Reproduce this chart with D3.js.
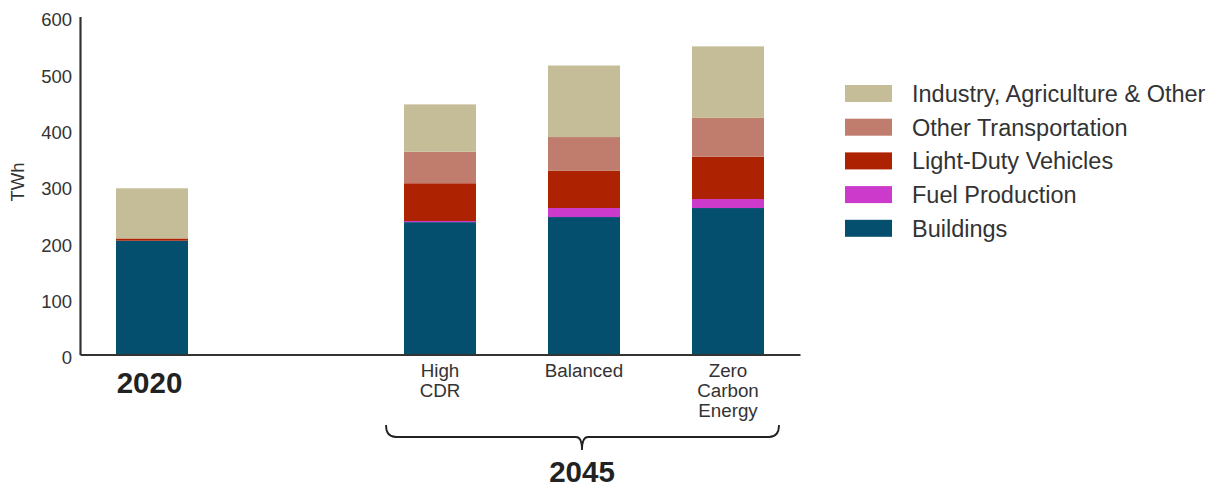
<!DOCTYPE html>
<html>
<head>
<meta charset="utf-8">
<script src="https://cdn.jsdelivr.net/npm/d3@7"></script>
<style>
  body { margin: 0; background: #fff; }
  svg { display: block; font-family: "Liberation Sans", Arial, sans-serif; }
</style>
</head>
<body>
<svg id="chart" width="1222" height="490"></svg>
<script>
// ---- data ----
const categories = ["2020", "gap", "High CDR", "Balanced", "Zero Carbon Energy"];
const categoryLabels = [["2020"], [], ["High", "CDR"], ["Balanced"], ["Zero", "Carbon", "Energy"]];
const seriesNames = ["Buildings", "Fuel Production", "Light-Duty Vehicles", "Other Transportation", "Industry, Agriculture & Other"];
const buildings   = [202, null, 235, 244, 260];
const fuelProd    = [0,   null, 2,   16,  16];
const lightDuty   = [4,   null, 67,  66,  75];
const otherTrans  = [0,   null, 56,  60,  69];
const industryAg  = [89,  null, 84,  127, 127];
const yTicks = [0, 100, 200, 300, 400, 500, 600];
const seriesColors = ["#044f6d", "#cc3acc", "#ad2200", "#c07d6e", "#c5bd98"];
const groupLabel = "2045";
const yTitle = "TWh";

// ---- build ----
const svg = d3.select("#chart");
const x = d3.scaleBand().domain(categories).range([80, 800]).paddingInner(0.5).paddingOuter(0.25);
const y = d3.scaleLinear().domain([0, 600]).range([354.5, 16.5]);

const seriesValues = [buildings, fuelProd, lightDuty, otherTrans, industryAg];
const rows = categories.map((c, i) => {
  const r = { cat: c };
  seriesNames.forEach((s, k) => r[s] = seriesValues[k][i] || 0);
  return r;
}).filter(r => r.cat !== "gap");
const stack = d3.stack().keys(seriesNames)(rows);
const color = d3.scaleOrdinal().domain(seriesNames).range(seriesColors);

svg.append("g").selectAll("g").data(stack).join("g")
  .attr("fill", d => color(d.key))
  .selectAll("rect").data(d => d).join("rect")
  .attr("x", d => x(d.data.cat))
  .attr("width", x.bandwidth())
  .attr("y", d => y(d[1]))
  .attr("height", d => Math.max(0, y(d[0]) - y(d[1])));

// y axis
const yAxis = d3.axisLeft(y).tickValues(yTicks).tickSize(0).tickPadding(8);
const gy = svg.append("g").attr("transform", "translate(80,0)").call(yAxis);
gy.select(".domain").attr("stroke", "#333").attr("stroke-width", 2.2);
gy.selectAll("text").attr("font-size", 18.5).attr("fill", "#333").attr("font-family", "Liberation Sans, Arial, sans-serif").attr("dy", "0.5em");

// x axis line
const xAxis = d3.axisBottom(x).tickSize(0).tickFormat("");
const gx = svg.append("g").attr("transform", "translate(0,354.5)").call(xAxis);
gx.select(".domain").attr("stroke", "#333").attr("stroke-width", 2.2);

// y title
svg.append("text")
  .attr("transform", "translate(24,182) rotate(-90)")
  .attr("text-anchor", "middle")
  .attr("font-size", 18.5).attr("fill", "#333")
  .text(yTitle);

// category labels
categories.forEach((c, i) => {
  const lines = categoryLabels[i];
  if (!lines.length) return;
  const cx = x(c) + x.bandwidth() / 2;
  if (c === "2020") {
    svg.append("text").attr("x", cx - 2.5).attr("y", 393)
      .attr("text-anchor", "middle").attr("font-size", 29.5).attr("font-weight", "bold")
      .attr("fill", "#222").text(lines[0]);
  } else {
    const t = svg.append("text").attr("text-anchor", "middle").attr("font-size", 18.8).attr("fill", "#333");
    lines.forEach((l, j) => t.append("tspan").attr("x", cx).attr("y", 377.3 + j * 19.7).text(l));
  }
});

// brace
const bx0 = 386, bx1 = 779, by0 = 425, by1 = 437, bm = 582, bTip = 450;
svg.append("path")
  .attr("d", `M${bx0},${by0} Q${bx0},${by1} ${bx0 + 10},${by1} L${bm - 6},${by1} Q${bm},${by1} ${bm},${bTip} Q${bm},${by1} ${bm + 6},${by1} L${bx1 - 10},${by1} Q${bx1},${by1} ${bx1},${by0}`)
  .attr("fill", "none").attr("stroke", "#222").attr("stroke-width", 1.8);
svg.append("text").attr("x", bm).attr("y", 482).attr("text-anchor", "middle")
  .attr("font-size", 29.5).attr("font-weight", "bold").attr("fill", "#222").text(groupLabel);

// legend (top to bottom reversed order)
const legendOrder = seriesNames.slice().reverse();
const lg = svg.append("g");
legendOrder.forEach((s, i) => {
  const cy = 93.5 + i * 33.7;
  lg.append("rect").attr("x", 845).attr("y", cy - 8.5).attr("width", 47).attr("height", 17).attr("fill", color(s));
  lg.append("text").attr("x", 912).attr("y", cy).attr("dy", "0.36em")
    .attr("font-size", 23.5).attr("fill", "#333").text(s);
});
</script>
</body>
</html>
